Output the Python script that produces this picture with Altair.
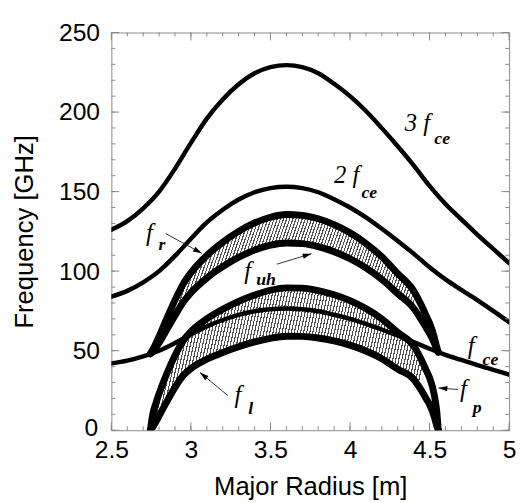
import math
import altair as alt
import pandas as pd

W, H = 404, 404

# ---- cyclotron harmonics sampled along the major radius ----
R_grid = [2.5, 2.6, 2.7, 2.8, 2.9, 3.0, 3.1, 3.2, 3.3, 3.4, 3.5, 3.6, 3.7,
          3.8, 3.9, 4.0, 4.1, 4.2, 4.3, 4.4, 4.5, 4.6, 4.7, 4.8, 4.9, 5.0]
f_ce = [42.0, 43.8, 46.5, 50.0, 54.8, 60.2, 65.3, 69.3, 72.5, 74.8, 76.1, 76.5, 76.1,
        74.8, 72.6, 70.0, 66.9, 63.3, 59.5, 55.5, 51.2, 47.4, 44.2, 41.0, 38.0, 35.0]
f_2ce = [84.0, 87.6, 93.0, 100.0, 109.6, 120.4, 130.6, 138.6, 145.0, 149.6, 152.2, 153.0, 152.2,
         149.6, 145.2, 140.0, 133.8, 126.6, 119.0, 111.0, 102.4, 94.8, 88.2, 81.8, 75.0, 68.0]
f_3ce = [126.0, 131.4, 139.5, 150.0, 164.4, 180.6, 195.9, 207.9, 217.5, 224.4, 228.3, 229.5, 228.3,
         224.4, 217.8, 210.0, 200.7, 189.9, 178.5, 166.5, 153.6, 142.2, 132.6, 123.0, 114.0, 105.0]

# ---- plasma frequencies / cutoffs inside the plasma ----
R_band = [2.745, 2.76, 2.78, 2.80, 2.85, 2.90, 2.95, 3.00, 3.10, 3.20, 3.30, 3.40, 3.50, 3.60,
          3.70, 3.80, 3.90, 4.00, 4.10, 4.20, 4.30, 4.40, 4.45, 4.48, 4.50, 4.53, 4.545, 4.555]
f_p = [0, 10, 17, 23, 36, 47, 56, 62, 70, 76, 81, 85, 88, 89.5,
       89.3, 87.8, 85.2, 81.5, 76.5, 70, 61.5, 53, 44, 37.5, 33, 22, 12, 0]
f_l = [0, 2.0, 5.3, 9.0, 18.3, 27.0, 34.2, 38.8, 44.6, 48.9, 52.5, 55.5, 57.8, 59.1,
       59.0, 58.0, 56.2, 53.5, 49.8, 45.0, 38.4, 32.1, 24.8, 19.6, 16.2, 8.3, 2.8, 0]
f_uh = [48.1, 49.6, 52.1, 55.0, 63.6, 72.2, 80.3, 86.4, 95.7, 102.8, 108.7, 113.2, 116.3, 117.7,
        117.3, 115.4, 112.2, 107.8, 102.1, 94.8, 85.9, 76.7, 69.2, 64.2, 60.9, 54.7, 50.9, 49.1]
f_r = [48.1, 50.6, 54.6, 59.0, 70.7, 81.8, 91.7, 99.0, 109.9, 118.2, 125.0, 130.3, 133.9, 135.6,
       135.1, 132.9, 129.2, 124.1, 117.4, 109.0, 98.4, 87.6, 78.2, 71.7, 67.4, 58.4, 52.3, 49.1]

# ---- ticks ----
x_major = [2.5, 3, 3.5, 4, 4.5, 5]
y_major = [0, 50, 100, 150, 200, 250]
x_minor = [round(2.5 + 0.1 * i, 1) for i in range(26)]
y_minor = list(range(0, 251, 10))

# ---- annotations ----
main_text = ["3 f", "2 f", "f", "f", "f", "f", "f"]
main_R = [4.344, 3.899, 2.717, 3.335, 3.274, 4.691, 4.740]
main_f = [193.1, 160.3, 123.8, 100.2, 22.3, 26.0, 52.6]
sub_text = ["ce", "ce", "r", "uh", "l", "p", "ce"]
sub_R = [4.530, 4.072, 2.797, 3.410, 3.360, 4.771, 4.833]
sub_f = [183.2, 149.1, 116.3, 94.7, 13.0, 14.2, 43.9]

arrow_tail_R = [2.842, 3.541, 3.232, 4.678]
arrow_tail_f = [123.6, 104.4, 21.8, 25.6]
arrow_head_R = [3.069, 3.758, 3.057, 4.556]
arrow_head_f = [111.2, 111.0, 36.3, 26.6]

# ---------------------------------------------------------------
xs = alt.Scale(domain=[2.5, 5], nice=False, zero=False)
ys = alt.Scale(domain=[0, 250], nice=False, zero=False)
XA = alt.Axis(values=x_major, title="Major Radius [m]", format="~g", grid=False, domain=False,
              ticks=False, labelPadding=8, titlePadding=11, labelFlush=False, labelOverlap=False)
YA = alt.Axis(values=y_major, title="Frequency [GHz]", grid=False, domain=False,
              ticks=False, labelOverlap=False, titlePadding=21,
              labelPadding={"condition": {"test": "datum.value === 0", "value": 14}, "value": 12},
              labelOffset={"condition": {"test": "datum.value === 0", "value": -3}, "value": 0})


def X(field):
    return alt.X(field, scale=xs, axis=XA)


def Y(field):
    return alt.Y(field, scale=ys, axis=YA)


fce_df = pd.DataFrame({"R": R_grid, "fce": f_ce, "f2ce": f_2ce, "f3ce": f_3ce})
fce_long = fce_df.melt(id_vars="R", var_name="series", value_name="f")

band_df = pd.DataFrame({"R": R_band, "fp": f_p, "fl": f_l, "fuh": f_uh, "fr": f_r})
band_long = band_df.melt(id_vars="R", var_name="series", value_name="f")

FRAME = "#8a8a8a"
DARK = "#505050"
LIGHT = "#ffffff"


def hatch(n_lines, slope):
    # diagonal hatching drawn as a striped linear gradient
    stops = []
    for k in range(n_lines):
        s = k / n_lines
        m = (k + 0.38) / n_lines
        e = (k + 1) / n_lines
        stops += [
            {"offset": s, "color": DARK}, {"offset": m, "color": DARK},
            {"offset": m, "color": LIGHT}, {"offset": e, "color": LIGHT},
        ]
    return {"gradient": "linear", "x1": 0, "y1": 0, "x2": 1, "y2": slope, "stops": stops}


area_upper = alt.Chart(band_df).mark_area(
    color=hatch(95, 0.17), interpolate="monotone", clip=True
).encode(x=X("R:Q"), y=Y("fuh:Q"), y2="fr:Q")

area_lower = alt.Chart(band_df).mark_area(
    color=hatch(95, 0.11), interpolate="monotone", clip=True
).encode(x=X("R:Q"), y=Y("fl:Q"), y2="fp:Q")

lines_band = alt.Chart(band_long).mark_line(
    color="black", strokeWidth=7, interpolate="monotone", clip=True, strokeCap="round"
).encode(x=X("R:Q"), y=Y("f:Q"), detail="series:N")

lines_fce = alt.Chart(fce_long).mark_line(
    color="black", strokeWidth=4.5, interpolate="monotone", clip=True, strokeCap="round"
).encode(x=X("R:Q"), y=Y("f:Q"), detail="series:N")


def xticks(vals, length, top):
    base = alt.Chart(pd.DataFrame({"t": vals})).mark_rule(color=FRAME, strokeWidth=1)
    if top:
        return base.encode(x=X("t:Q"), y=alt.value(0), y2=alt.value(length))
    return base.encode(x=X("t:Q"), y=alt.value(H), y2=alt.value(H - length))


def yticks(vals, length, right):
    base = alt.Chart(pd.DataFrame({"t": vals})).mark_rule(color=FRAME, strokeWidth=1)
    if right:
        return base.encode(y=Y("t:Q"), x=alt.value(W), x2=alt.value(W - length))
    return base.encode(y=Y("t:Q"), x=alt.value(0), x2=alt.value(length))


tick_layers = [
    xticks(x_minor, 4, False), xticks(x_major, 8, False),
    xticks(x_minor, 4, True), xticks(x_major, 8, True),
    yticks(y_minor, 4, False), yticks(y_major, 8, False),
    yticks(y_minor, 4, True), yticks(y_major, 8, True),
]

arrow_df = pd.DataFrame({
    "tR": arrow_tail_R, "tf": arrow_tail_f, "hR": arrow_head_R, "hf": arrow_head_f,
})
arrow_df["ang"] = [
    (math.degrees(math.atan2(-(hf - tf) * H / 250.0, (hR - tR) * W / 2.5)) + 360.0) % 360.0
    for tR, tf, hR, hf in zip(arrow_tail_R, arrow_tail_f, arrow_head_R, arrow_head_f)
]

arrow_lines = alt.Chart(arrow_df).mark_rule(color="#333333", strokeWidth=1).encode(
    x=X("tR:Q"), y=Y("tf:Q"), x2="hR:Q", y2="hf:Q",
)
arrow_heads = alt.Chart(arrow_df).mark_point(
    shape="M0,0L-1,-0.3L-1,0.3Z", filled=True, color="black", size=324, opacity=1
).encode(
    x=X("hR:Q"), y=Y("hf:Q"), angle=alt.Angle("ang:Q", scale=None),
)

main_df = pd.DataFrame({"txt": main_text, "R": main_R, "f": main_f})
sub_df = pd.DataFrame({"txt": sub_text, "R": sub_R, "f": sub_f})

main_labels = alt.Chart(main_df).mark_text(
    font="Liberation Serif", fontStyle="italic", fontSize=25, align="left",
    baseline="middle", color="black",
).encode(x=X("R:Q"), y=Y("f:Q"), text="txt:N")

sub_labels = alt.Chart(sub_df).mark_text(
    font="Liberation Serif", fontStyle="italic", fontWeight="bold", fontSize=18,
    align="left", baseline="middle", color="black",
).encode(x=X("R:Q"), y=Y("f:Q"), text="txt:N")

chart = alt.layer(
    area_upper, area_lower, lines_band, lines_fce, *tick_layers,
    arrow_lines, arrow_heads, main_labels, sub_labels,
).properties(
    width=W, height=H,
    autosize=alt.AutoSizeParams(type="none"),
    padding={"left": 105, "top": 21, "right": 7, "bottom": 70},
).configure_view(
    stroke=FRAME, strokeWidth=1,
).configure_axis(
    labelFont="Liberation Sans", labelFontSize=25, labelColor="black",
    titleFont="Liberation Sans", titleFontSize=26, titleFontWeight="normal", titleColor="black",
)

chart.save("out.html", embed_options={"renderer": "svg", "actions": False})
